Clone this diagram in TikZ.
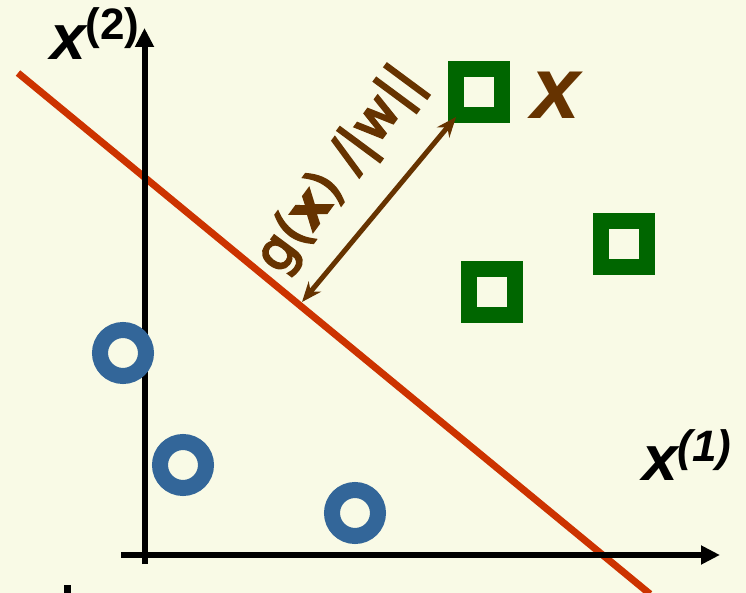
\documentclass[tikz,border=0pt]{standalone}
\usepackage{fontspec}
\setmainfont{Liberation Sans}
\newfontfamily\distfont{DejaVu Sans}[FakeBold=4]
\usetikzlibrary{arrows.meta}
\definecolor{bgyellow}{RGB}{249,250,230}
\definecolor{planered}{RGB}{204,51,0}
\definecolor{classgreen}{RGB}{0,102,0}
\definecolor{classblue}{RGB}{51,102,153}
\definecolor{distbrown}{RGB}{102,51,0}

\begin{document}
\begin{tikzpicture}[x=1pt, y=-1pt,
  sqpt/.style={rectangle, draw=classgreen, line width=16pt,
               minimum size=46pt, inner sep=0pt},
  cipt/.style={circle, draw=classblue, line width=16pt,
               minimum size=46pt, inner sep=0pt},
  axis/.style={line width=6pt, -{Triangle[length=19pt, width=18pt]}},
  axlabel/.style={inner sep=0pt, anchor=base west}]
  \fill[bgyellow] (0,0) rectangle (746,593);
  \useasboundingbox (0,0) rectangle (746,593);

  % decision line
  \coordinate (l0) at (18,73);
  \coordinate (l1) at (650,594);
  \draw[planered, line width=7pt] (l0) -- (l1);

  % axes
  \coordinate (h0) at (121,555);
  \coordinate (h1) at (720,555);
  \coordinate (v0) at (144.5,564);
  \coordinate (v1) at (144.5,28);
  \draw[axis] (h0) -- (h1);
  \draw[axis] (v0) -- (v1);
  \fill (64,585) rectangle (71,593);

  % samples
  \foreach \name/\x/\y in {c1/123/353, c2/183/465, c3/355/513}
    \node[cipt] (\name) at (\x,\y) {};
  \foreach \name/\x/\y in {s1/479/92.5, s2/624/244, s3/492/292}
    \node[sqpt] (\name) at (\x,\y) {};

  % distance to the line
  \coordinate (foot) at (302,302);
  \coordinate (tip) at (456,117);
  \draw[distbrown, line width=5pt,
        {Stealth[length=20pt, width=16pt]}-{Stealth[length=20pt, width=16pt]}]
        (foot) -- (tip);
  \node[distbrown, inner sep=0pt, anchor=base, rotate=53.5,
        font=\distfont\fontsize{53}{53}\selectfont]
        (dist) at (352,179) {g(\textbf{x}) /|w||};

  \node[axlabel, distbrown, font=\fontsize{88}{88}\selectfont\bfseries\itshape]
        (xlab) at (531,119) {x};
  \node[axlabel, font=\fontsize{64}{64}\selectfont\bfseries]
        (x2lab) at (50,60) {\itshape x\upshape\raisebox{20pt}{\fontsize{44}{44}\selectfont(2)}};
  \node[axlabel, font=\fontsize{64}{64}\selectfont\bfseries]
        (x1lab) at (642,480) {\itshape x\raisebox{19pt}{\fontsize{44}{44}\selectfont(1)}};
\end{tikzpicture}
\end{document}
